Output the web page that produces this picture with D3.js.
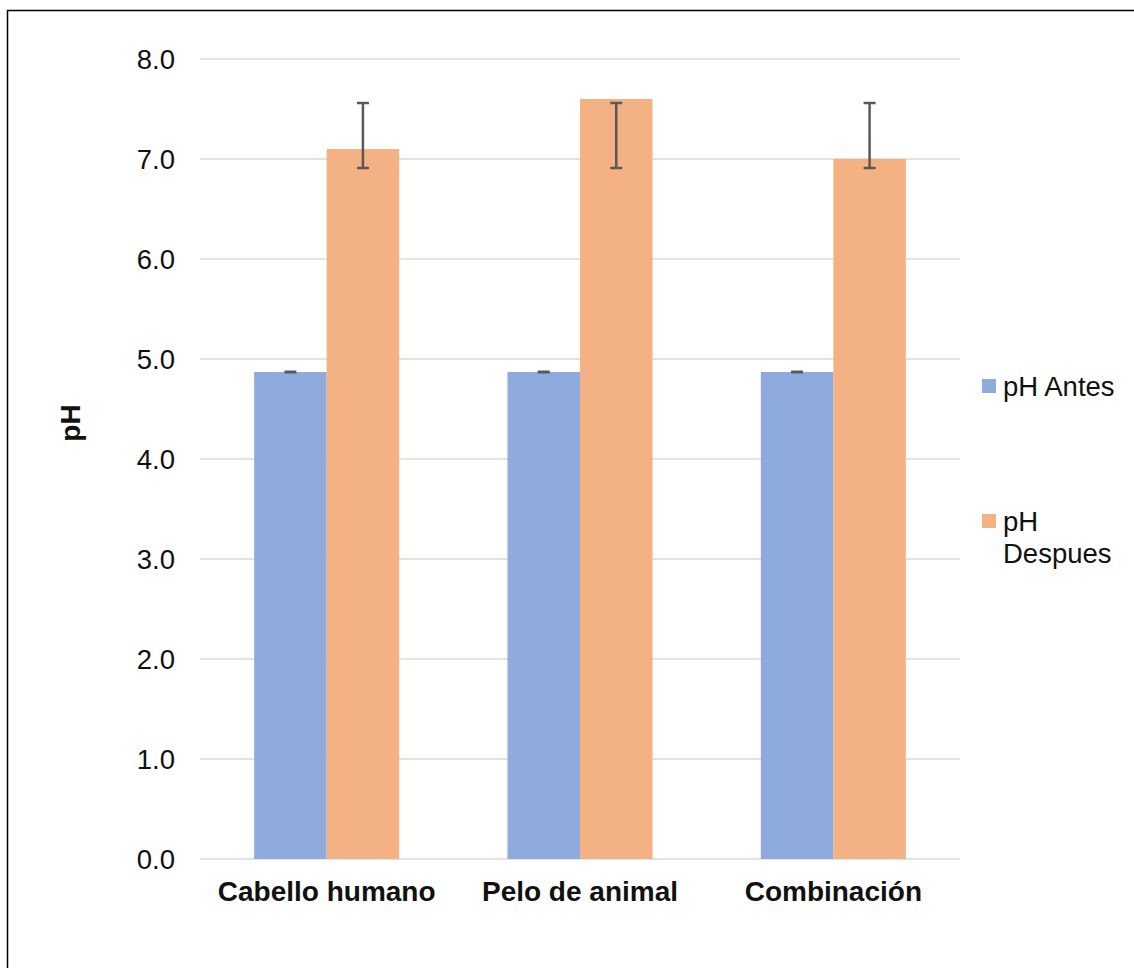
<!DOCTYPE html>
<html>
<head>
<meta charset="utf-8">
<script src="https://cdn.jsdelivr.net/npm/d3@7"></script>
<style>
  body { margin: 0; background: #fff; }
  svg text { font-family: Arial, "Liberation Sans", sans-serif; }
</style>
</head>
<body>
<div id="chart"></div>
<script>
// data
var categories = ["Cabello humano", "Pelo de animal", "Combinación"];
var seriesNames = ["pH Antes", "pH Despues"];
var phAntes = [4.87, 4.87, 4.87];
var phDespues = [7.1, 7.6, 7.0];
var antesErrLow = [4.86, 4.86, 4.86];
var antesErrHigh = [4.88, 4.88, 4.88];
var despuesErrLow = [6.91, 6.91, 6.91];
var despuesErrHigh = [7.56, 7.56, 7.56];
var yTicks = [0, 1, 2, 3, 4, 5, 6, 7, 8];

var colors = ["#8FAADC", "#F4B183"];

var width = 1134, height = 968;
var plot = {left: 200, right: 960, top: 59, bottom: 859};

var svg = d3.select("#chart")
  .append("svg")
    .attr("width", width)
    .attr("height", height);

svg.append("rect")
  .attr("width", width)
  .attr("height", height)
  .attr("fill", "#fff");

// chart border (only left and top fall inside the picture)
svg.append("rect")
  .attr("x", 7.5)
  .attr("y", 10.5)
  .attr("width", width + 20)
  .attr("height", height + 20)
  .attr("fill", "none")
  .attr("stroke", "#000")
  .attr("stroke-width", 1.5);

var y = d3.scaleLinear()
  .domain([0, 8])
  .range([plot.bottom, plot.top]);

var x0 = d3.scaleBand()
  .domain(categories)
  .range([plot.left, plot.right])
  .paddingInner(0.4276)
  .paddingOuter(0.2138);

var x1 = d3.scaleBand()
  .domain(seriesNames)
  .range([0, x0.bandwidth()]);

// gridlines
svg.append("g")
  .selectAll("line")
  .data(yTicks)
  .enter()
  .append("line")
    .attr("x1", plot.left)
    .attr("x2", plot.right)
    .attr("y1", function(d) { return y(d); })
    .attr("y2", function(d) { return y(d); })
    .attr("stroke", "#D9D9D9")
    .attr("stroke-width", 1.5);

// y tick labels
svg.append("g")
  .selectAll("text")
  .data(yTicks)
  .enter()
  .append("text")
    .attr("x", 175)
    .attr("y", function(d) { return y(d) + 10; })
    .attr("text-anchor", "end")
    .style("font-size", "27.5px")
    .attr("fill", "#111")
    .text(function(d) { return d3.format(".1f")(d); });

// bars
var rows = categories.map(function(c, i) {
  return [
    {cat: c, s: seriesNames[0], v: phAntes[i], lo: antesErrLow[i], hi: antesErrHigh[i], col: colors[0]},
    {cat: c, s: seriesNames[1], v: phDespues[i], lo: despuesErrLow[i], hi: despuesErrHigh[i], col: colors[1]}
  ];
});
var flat = [].concat.apply([], rows);

svg.append("g")
  .selectAll("rect")
  .data(flat)
  .enter()
  .append("rect")
    .attr("x", function(d) { return x0(d.cat) + x1(d.s); })
    .attr("y", function(d) { return y(d.v); })
    .attr("width", x1.bandwidth())
    .attr("height", function(d) { return y(0) - y(d.v); })
    .attr("fill", function(d) { return d.col; });

// error bars
var eb = svg.append("g")
  .attr("stroke", "#595959");

flat.forEach(function(d) {
  var cx = x0(d.cat) + x1(d.s) + x1.bandwidth() / 2;
  if (d.hi - d.lo > 0.05) {
    eb.append("line")
      .attr("x1", cx).attr("x2", cx)
      .attr("y1", y(d.hi)).attr("y2", y(d.lo))
      .attr("stroke-width", 2.5);
    [d.hi, d.lo].forEach(function(v) {
      eb.append("line")
        .attr("x1", cx - 6).attr("x2", cx + 6)
        .attr("y1", y(v)).attr("y2", y(v))
        .attr("stroke-width", 2.5);
    });
  } else {
    eb.append("line")
      .attr("x1", cx - 6).attr("x2", cx + 6)
      .attr("y1", y(d.v)).attr("y2", y(d.v))
      .attr("stroke-width", 3);
  }
});

// category labels
svg.append("g")
  .selectAll("text")
  .data(categories)
  .enter()
  .append("text")
    .attr("x", function(d) { return x0(d) + x0.bandwidth() / 2; })
    .attr("y", 901)
    .attr("text-anchor", "middle")
    .style("font-size", "28px")
    .style("font-weight", "bold")
    .attr("fill", "#111")
    .text(function(d) { return d; });

// y axis title
svg.append("text")
  .attr("transform", "translate(80,423)rotate(-90)")
  .attr("text-anchor", "middle")
  .style("font-size", "28px")
  .style("font-weight", "bold")
  .attr("fill", "#111")
  .text("pH");

// legend
var legendY = [379, 514];
var legend = svg.append("g");
seriesNames.forEach(function(name, i) {
  legend.append("rect")
    .attr("x", 982)
    .attr("y", legendY[i])
    .attr("width", 14)
    .attr("height", 14)
    .attr("fill", colors[i]);
  var words = name.split(" ");
  var lines = i === 0 ? [name] : words;
  var t = legend.append("text")
    .attr("x", 1003)
    .attr("y", legendY[i] + 17)
    .style("font-size", "27.5px")
    .attr("fill", "#111");
  lines.forEach(function(l, j) {
    t.append("tspan")
      .attr("x", 1003)
      .attr("dy", j === 0 ? 0 : 32)
      .text(l);
  });
});
</script>
</body>
</html>
